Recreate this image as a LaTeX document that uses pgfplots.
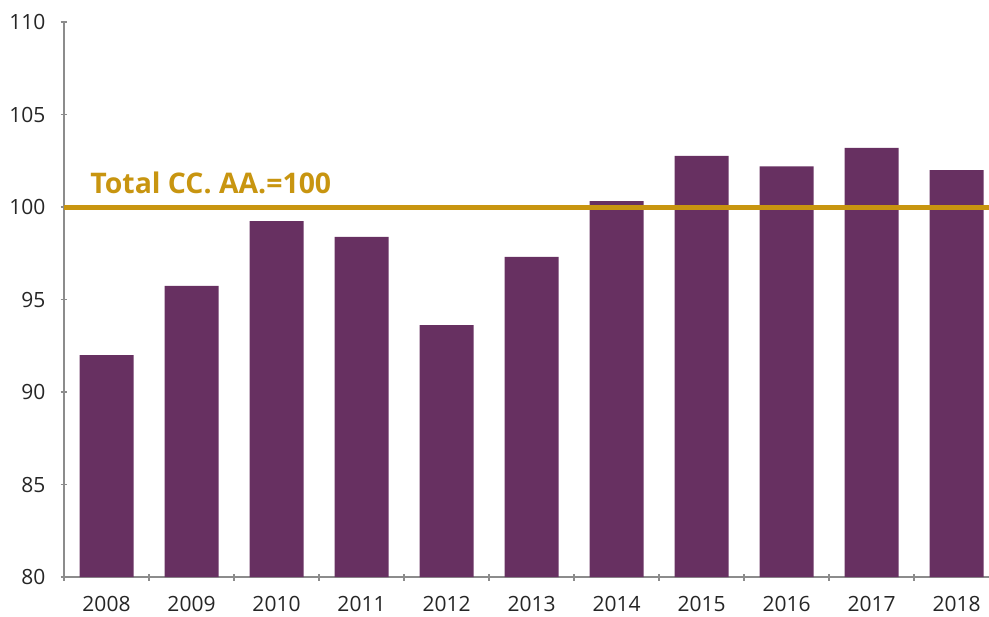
\documentclass[border=0pt]{standalone}
\usepackage{pgfplots}
\pgfplotsset{compat=1.18}
\usepackage{fontspec}
\setmainfont{Open Sans}
\definecolor{barpurple}{RGB}{103,48,97}
\definecolor{goldline}{RGB}{200,149,16}
\definecolor{axisgray}{RGB}{140,140,140}
\begin{document}
\begin{tikzpicture}
\begin{axis}[
    scale only axis,
    width=462.5pt,
    height=277.5pt,
    ybar,
    bar width=27pt,
    xmin=-0.5, xmax=10.382,
    ymin=80, ymax=110,
    ytick={80,85,...,110},
    xtick={0,...,10},
    xticklabels={2008,2009,2010,2011,2012,2013,2014,2015,2016,2017,2018},
    minor xtick={-0.5,0.5,...,9.5},
    major x tick style={draw=none},
    minor tick length=3.5pt,
    major tick length=3.5pt,
    tick align=outside,
    axis x line=bottom,
    axis y line=left,
    axis line style={axisgray, -, line width=0.6pt},
    tick style={axisgray, line width=0.6pt},
    y axis line style={-},
    x axis line style={-},
    ticklabel style={font=\fontsize{10.5}{12}\selectfont, text=black!85},
    /pgf/number format/assume math mode=true,
    yticklabel style={xshift=-4pt},
    xticklabel style={yshift=-4.5pt},
    clip=false,
]
\addplot[fill=barpurple, draw=none] coordinates {
    (0,92.0) (1,95.73) (2,99.24) (3,98.38) (4,93.62) (5,97.3)
    (6,100.32) (7,102.76) (8,102.2) (9,103.19) (10,102.0)
};
\draw[goldline, line width=2.5pt] (axis cs:-0.5,100) -- (axis cs:10.382,100);
\node[anchor=base west, text=goldline, font=\fontsize{14.2}{17}\selectfont\bfseries, inner sep=0pt]
    at (axis cs:-0.194,100) [yshift=7pt] {Total CC. AA.=100};
\end{axis}
\pgfresetboundingbox
\useasboundingbox (-32pt,-19.5pt) rectangle (462.5pt,288.5pt);
\end{tikzpicture}
\end{document}
